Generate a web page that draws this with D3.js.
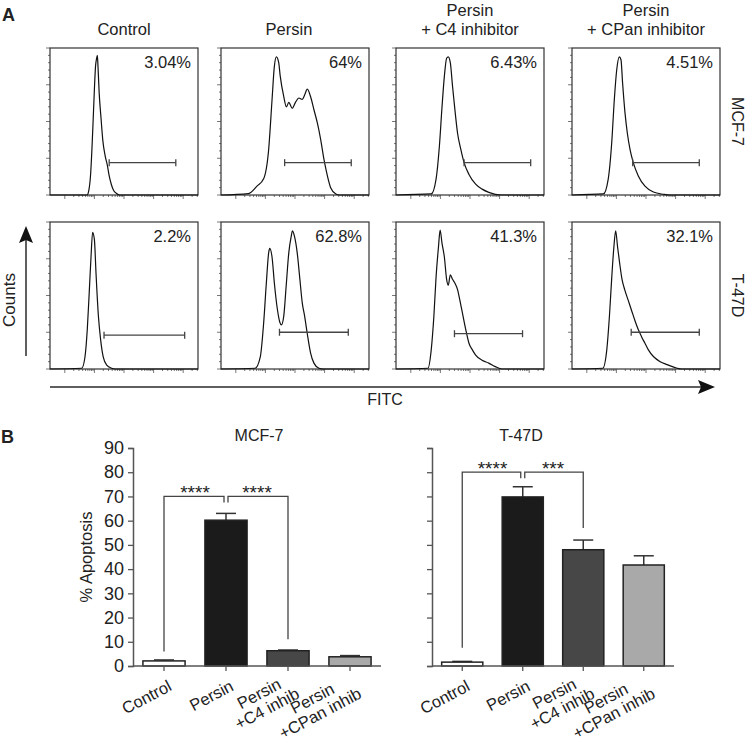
<!DOCTYPE html>
<html><head><meta charset="utf-8">
<script src="https://cdn.jsdelivr.net/npm/d3@7"></script>
<style>
body{margin:0;background:#fff}
text{font-family:"Liberation Sans",Arial,Helvetica,sans-serif;fill:#222}
</style>
</head><body>
<svg id="c" width="747" height="738"></svg>
<script>
// ---------------- DATA ----------------
const conditionTitles = [["Control"],["Persin"],["Persin","+ C4 inhibitor"],["Persin","+ CPan inhibitor"]];
const cellLines = ["MCF-7","T-47D"];
const pctMCF7 = ["3.04%","64%","6.43%","4.51%"];
const pctT47D = ["2.2%","62.8%","41.3%","32.1%"];

// Flow histograms: [FITC channel (0-1000), relative counts (0-100)]
const mcf7Control = [[0,0],[250,0],[262,3],[275,15],[285,35],[292,52],[300,72],[308,88],[315,93],[320,95],[324,88],[332,70],[345,52],[357,37],[372,27],[388,20],[400,13],[415,7],[430,3],[450,1],[470,0],[1000,0]];
const mcf7Persin = [[0,0],[186,1],[243,6],[288,11],[322,31],[345,65],[360,87],[374,94],[390,90],[400,81],[424,67],[442,60],[458,63],[481,59],[503,63],[526,66],[549,65],[565,68],[583,72],[605,67],[628,58],[651,49],[673,38],[696,24],[719,13],[741,5],[776,0.7],[800,0],[1000,0]];
const mcf7C4 = [[0,0],[238,0.7],[271,11],[293,33],[311,60],[327,81],[342,93],[353,94],[367,90],[382,74],[400,56],[416,42],[438,31],[460,22],[493,14],[538,7.4],[582,4],[627,1.8],[710,0],[1000,0]];
const mcf7CPan = [[0,0],[212,0.7],[245,11],[268,35],[286,65],[302,85],[320,94],[331,92],[342,76],[358,56],[374,42],[392,31],[414,22],[448,13],[493,6],[550,2],[617,0.5],[660,0],[1000,0]];
const t47dControl = [[0,0],[214,0.5],[236,8],[252,27],[266,54],[277,76],[288,93],[300,88],[311,65],[327,36],[342,20],[360,8],[383,2.7],[417,0.5],[440,0],[1000,0]];
const t47dPersin = [[0,0],[231,0.5],[265,8],[288,31],[306,58],[322,79],[329,82],[345,76],[361,58],[379,42],[397,32],[408,30],[424,36],[440,56],[458,79],[474,90],[483,94],[497,90],[515,79],[533,61],[549,45],[565,36],[583,24],[605,11],[628,4],[662,0.5],[690,0],[1000,0]];
const t47dC4 = [[0,0],[216,0.5],[238,13],[256,36],[271,63],[287,83],[298,94.5],[311,85.5],[327,76],[342,61],[353,57],[367,64],[382,61],[400,58],[416,54],[431,47],[449,38],[471,27],[493,17.5],[516,13],[538,9.5],[582,6],[627,4],[671,1.6],[716,0],[1000,0]];
const t47dCPan = [[0,0],[208,0.5],[235,13],[253,36],[269,63],[283,83],[295,94],[308,83],[322,72],[338,61],[356,54],[379,47],[402,40],[425,33],[447,27],[470,22],[493,17.5],[516,13],[550,8.5],[596,5],[642,3],[710,0.5],[740,0],[1000,0]];

// Gates [start, end] in channel units, and level in counts
const gatesMCF7 = [[400,850],[430,880],[460,910],[410,860]];
const gatesT47D = [[365,910],[395,860],[395,855],[400,860]];
const gateLevelMCF7 = [22,22,22,22];
const gateLevelT47D = [23,25,24,25];

// Panel B
const barCategories = [["Control"],["Persin"],["Persin","+C4 inhib"],["Persin","+CPan inhib"]];
const barKeys = ["Control","Persin","C4","CPan"];
const mcf7Mean = [2.1, 60.2, 6.3, 3.8];
const mcf7Err  = [0.4, 2.8, 0.3, 0.5];
const t47dMean = [1.6, 69.8, 48.0, 41.7];
const t47dErr  = [0.3, 4.2, 4.0, 3.8];
const yTicks = [0,10,20,30,40,50,60,70,80,90];
const barFills = ["#ffffff","#1b1b1b","#474747","#a9a9a9"];
// bracket: [control leg bottom, bracket top, inhibitor leg bottom]
const mcf7Bracket = [6, 70, 11];
const t47dBracket = [7.5, 80, 57];
const mcf7Stars = ["****","****"];
const t47dStars = ["****","***"];

// ---------------- DRAW ----------------
const svg = d3.select("#c");
svg.append("rect").attr("width",747).attr("height",738).attr("fill","#fff");
const ink = "#2a2a2a";

// Panel letters
svg.append("text").attr("x",2).attr("y",21).attr("font-size",18).attr("font-weight","bold").text("A");
svg.append("text").attr("x",1).attr("y",443).attr("font-size",18).attr("font-weight","bold").text("B");

// ----- Panel A -----
const colX = [50,221,396,572], rowY = [48,222], boxW = 148, boxH = 147;
const histRows = [[mcf7Control,mcf7Persin,mcf7C4,mcf7CPan],[t47dControl,t47dPersin,t47dC4,t47dCPan]];
const gateRows = [gatesMCF7, gatesT47D];
const gateLevelRows = [gateLevelMCF7, gateLevelT47D];
const pctRows = [pctMCF7, pctT47D];

// column titles
conditionTitles.forEach((lines,c)=>{
  const cx = colX[c] + boxW/2 - (c===1?6:0);
  const n = lines.length;
  lines.forEach((t,i)=>{
    svg.append("text").attr("x",cx).attr("y",35 - (n-1-i)*19)
      .attr("text-anchor","middle").attr("font-size",16.5).text(t);
  });
});

histRows.forEach((row,r)=>row.forEach((data,c)=>{
  const x0 = colX[c], y0 = rowY[r];
  const x = d3.scaleLinear().domain([0,1000]).range([x0,x0+boxW]);
  const y = d3.scaleLinear().domain([0,100]).range([y0+boxH,y0]);
  const g = svg.append("g");
  // left ticks
  d3.range(0,101,5).forEach(v=>{
    const major = v%25===0;
    g.append("line").attr("x1",x0).attr("x2",x0-(major?4:2))
      .attr("y1",y(v)).attr("y2",y(v)).attr("stroke","#555").attr("stroke-width",0.8);
  });
  // bottom log ticks
  for(let d=0; d<5; d++){
    for(let m=1; m<10; m++){
      const ch = 100 + 200*(d + Math.log10(m));
      if(ch>1000) continue;
      g.append("line").attr("x1",x(ch)).attr("x2",x(ch))
        .attr("y1",y0+boxH).attr("y2",y0+boxH+(m===1?4:2))
        .attr("stroke","#555").attr("stroke-width",0.8);
    }
  }
  // box
  g.append("rect").attr("x",x0).attr("y",y0).attr("width",boxW).attr("height",boxH)
    .attr("fill","none").attr("stroke","#333").attr("stroke-width",1.2);
  // histogram
  g.append("path").datum(data)
    .attr("d",d3.line().x(d=>x(d[0])).y(d=>y(d[1])).curve(d3.curveMonotoneX))
    .attr("fill","none").attr("stroke","#111").attr("stroke-width",1.2);
  // gate
  const gt = gateRows[r][c], gl = y(gateLevelRows[r][c]);
  g.append("line").attr("x1",x(gt[0])).attr("x2",x(gt[1])).attr("y1",gl).attr("y2",gl)
    .attr("stroke","#444").attr("stroke-width",1.3);
  gt.forEach(v=>g.append("line").attr("x1",x(v)).attr("x2",x(v)).attr("y1",gl-3.5).attr("y2",gl+3.5)
    .attr("stroke","#444").attr("stroke-width",1.3));
  // percentage
  g.append("text").attr("x",x0+boxW-7).attr("y",y0+20).attr("text-anchor","end")
    .attr("font-size",16.5).text(pctRows[r][c]);
}));

// row labels
cellLines.forEach((t,r)=>{
  const cy = rowY[r] + boxH/2;
  svg.append("text").attr("transform",`translate(732,${cy}) rotate(90)`)
    .attr("text-anchor","middle").attr("font-size",16).text(t);
});

// Counts arrow
svg.append("line").attr("x1",26).attr("x2",26).attr("y1",356).attr("y2",240).attr("stroke",ink).attr("stroke-width",1.5);
svg.append("path").attr("d","M26,226 L19,243 L26,240 L33,243 Z").attr("fill","#111");
svg.append("text").attr("transform","translate(15,300) rotate(-90)").attr("text-anchor","middle").attr("font-size",17).text("Counts");

// FITC arrow
svg.append("line").attr("x1",50).attr("x2",702).attr("y1",387).attr("y2",387).attr("stroke",ink).attr("stroke-width",1.5);
svg.append("path").attr("d","M715,387 L698,380 L701,387 L698,394 Z").attr("fill","#111");
svg.append("text").attr("x",385).attr("y",405).attr("text-anchor","middle").attr("font-size",16).text("FITC");

// ----- Panel B -----
function barChart(opt){
  const {x0,x1,title,titleX,mean,err,bracket,stars,showLabels} = opt;
  const yTop = 448, yBot = 666;
  const y = d3.scaleLinear().domain([0,90]).range([yBot,yTop]);
  const x = d3.scaleBand().domain(barKeys).range([x0,x1]).paddingInner(0.32).paddingOuter(0.16);
  const g = svg.append("g");
  g.append("text").attr("x",titleX).attr("y",441).attr("text-anchor","middle").attr("font-size",16).text(title);
  const ax = g.append("g").attr("transform",`translate(${x0},0)`)
    .call(d3.axisLeft(y).tickValues(yTicks).tickSize(5).tickPadding(4)
      .tickFormat(showLabels? d3.format("d") : ""));
  ax.select(".domain").attr("stroke","#555").attr("stroke-width",1.5);
  ax.selectAll(".tick line").attr("stroke","#555").attr("stroke-width",1.3);
  ax.selectAll(".tick text").attr("font-size",18).attr("fill","#222")
    .attr("font-family",'"Liberation Sans",Arial,sans-serif');
  if(showLabels){
    g.append("text").attr("transform",`translate(92,${(yTop+yBot)/2}) rotate(-90)`)
      .attr("text-anchor","middle").attr("font-size",16.5).text("% Apoptosis");
  }
  barKeys.forEach((k,i)=>{
    const bx = x(k), bw = x.bandwidth(), cx = bx+bw/2;
    g.append("line").attr("x1",cx).attr("x2",cx).attr("y1",y(mean[i])).attr("y2",y(mean[i]+err[i]))
      .attr("stroke","#333").attr("stroke-width",1.5);
    g.append("line").attr("x1",cx-10).attr("x2",cx+10).attr("y1",y(mean[i]+err[i])).attr("y2",y(mean[i]+err[i]))
      .attr("stroke","#333").attr("stroke-width",1.5);
    g.append("rect").attr("x",bx).attr("y",y(mean[i])).attr("width",bw).attr("height",y(0)-y(mean[i]))
      .attr("fill",barFills[i]).attr("stroke","#222").attr("stroke-width",1.5);
  });
  g.append("line").attr("x1",x0).attr("x2",x1).attr("y1",yBot).attr("y2",yBot).attr("stroke","#555").attr("stroke-width",1.5);
  const fs = 16.5, lh = 17;
  barKeys.forEach((k,i)=>{
    const cx = x(k)+x.bandwidth()/2;
    g.append("line").attr("x1",cx).attr("x2",cx).attr("y1",yBot).attr("y2",yBot+5).attr("stroke","#555").attr("stroke-width",1.3);
    const lg = g.append("g").attr("transform",`translate(${cx+6},${yBot+18.5}) rotate(-28)`);
    const lines = barCategories[i];
    const n = lines.length;
    const texts = lines.map((t,j)=>lg.append("text").attr("font-size",fs).attr("text-anchor","middle")
      .attr("y",(j-(n-1)/2)*lh + 5.8).text(t));
    const maxW = d3.max(texts,t=>t.node().getComputedTextLength());
    texts.forEach(t=>t.attr("x",-maxW/2));
  });
  const cC = x("Control")+x.bandwidth()/2, cP = x("Persin")+x.bandwidth()/2, cI = x("C4")+x.bandwidth()/2;
  const by = y(bracket[1]);
  g.append("path").attr("d",`M${cC},${y(bracket[0])} V${by} H${cP-2} V${by+6}`)
    .attr("fill","none").attr("stroke","#444").attr("stroke-width",1.3);
  g.append("path").attr("d",`M${cP+2},${by+6} V${by} H${cI} V${y(bracket[2])}`)
    .attr("fill","none").attr("stroke","#444").attr("stroke-width",1.3);
  [[cC,cP],[cP,cI]].forEach((p,j)=>{
    g.append("text").attr("x",(p[0]+p[1])/2).attr("y",by+3).attr("text-anchor","middle")
      .attr("font-size",19).text(stars[j]);
  });
}

barChart({x0:133,x1:381,title:"MCF-7",titleX:259,mean:mcf7Mean,err:mcf7Err,bracket:mcf7Bracket,stars:mcf7Stars,showLabels:true});
barChart({x0:432,x1:674,title:"T-47D",titleX:521,mean:t47dMean,err:t47dErr,bracket:t47dBracket,stars:t47dStars,showLabels:false});
</script>
</body></html>
